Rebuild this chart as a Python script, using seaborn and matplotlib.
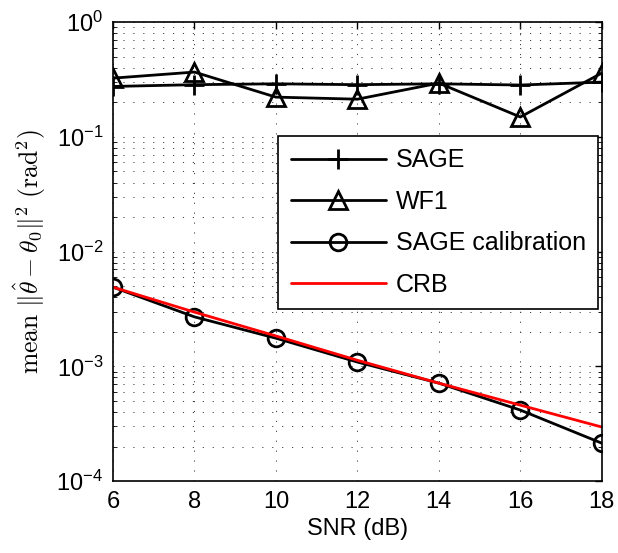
import numpy as np
import pandas as pd
import matplotlib
matplotlib.use("Agg")
import matplotlib.pyplot as plt
import seaborn as sns

snr = [6, 8, 10, 12, 14, 16, 18]
sage = [0.275, 0.285, 0.29, 0.285, 0.29, 0.283, 0.30]
wf1 = [0.325, 0.367, 0.222, 0.213, 0.294, 0.149, 0.36]
sage_cal = [0.0049, 0.0027, 0.00176, 0.00109, 0.000714, 0.000416, 0.000214]
crb = [0.0049, 0.00297, 0.00184, 0.00113, 0.000714, 0.000459, 0.000296]
xticks = [6, 8, 10, 12, 14, 16, 18]

sns.set_style("white")
plt.rcParams['font.family'] = ['Liberation Sans', 'DejaVu Sans']
plt.rcParams['mathtext.fontset'] = 'cm'
plt.rcParams['text.color'] = 'black'
plt.rcParams['axes.labelcolor'] = 'black'
plt.rcParams['xtick.color'] = 'black'
plt.rcParams['ytick.color'] = 'black'

fig = plt.figure(figsize=(6.18, 5.53), dpi=100)
ax = fig.add_axes([0.1828, 0.130, 0.791, 0.830])

df = pd.DataFrame({"snr": snr, "sage": sage, "wf1": wf1, "cal": sage_cal, "crb": crb})

sns.lineplot(data=df, x="snr", y="sage", ax=ax, color="black", lw=2,
             marker="+", markersize=14, mew=2, mec="black", label="SAGE")
sns.lineplot(data=df, x="snr", y="wf1", ax=ax, color="black", lw=2,
             marker="^", markersize=13, mew=2, mfc="none", mec="black", label="WF1")
sns.lineplot(data=df, x="snr", y="cal", ax=ax, color="black", lw=2,
             marker="o", markersize=12, mew=2, mfc="none", mec="black", label="SAGE calibration")
sns.lineplot(data=df, x="snr", y="crb", ax=ax, color="red", lw=2, label="CRB")

ax.set_yscale("log")
ax.set_xlim(6, 18)
ax.set_ylim(1e-4, 1)
ax.set_xticks(xticks)
ax.set_xticklabels([str(v) for v in xticks])
gstyle = dict(linestyle=(0, (1.2, 9)), color="0.25", lw=0.7)
ax.grid(True, which="major", axis="both", **gstyle)
ax.grid(True, which="minor", axis="y", **gstyle)
ax.set_axisbelow(True)
ax.tick_params(axis="both", which="major", labelsize=17, direction="in", length=5,
               top=True, right=True, width=1, pad=7, colors="black")
ax.tick_params(axis="y", which="minor", direction="in", length=3, right=True, left=True)
for s in ax.spines.values():
    s.set_color("black")
    s.set_linewidth(1.2)

ax.set_xlabel("SNR (dB)", fontsize=17, labelpad=4, color="black")
ax.set_ylabel(r'$\mathrm{mean}\ \|\hat{\theta}-\theta_0\|^2\ (\mathrm{rad}^2)$', fontsize=18.5,
              labelpad=6, color="black")

leg = ax.legend(loc="upper right", bbox_to_anchor=(0.993, 0.752), fontsize=18,
                handlelength=3.8, frameon=True, fancybox=False, framealpha=1,
                edgecolor="black", borderpad=0.5, labelspacing=0.7, handletextpad=0.4,
                borderaxespad=0)
leg.get_frame().set_linewidth(1.2)
for t in leg.get_texts():
    t.set_color("black")

fig.savefig("out.png", dpi=100)
